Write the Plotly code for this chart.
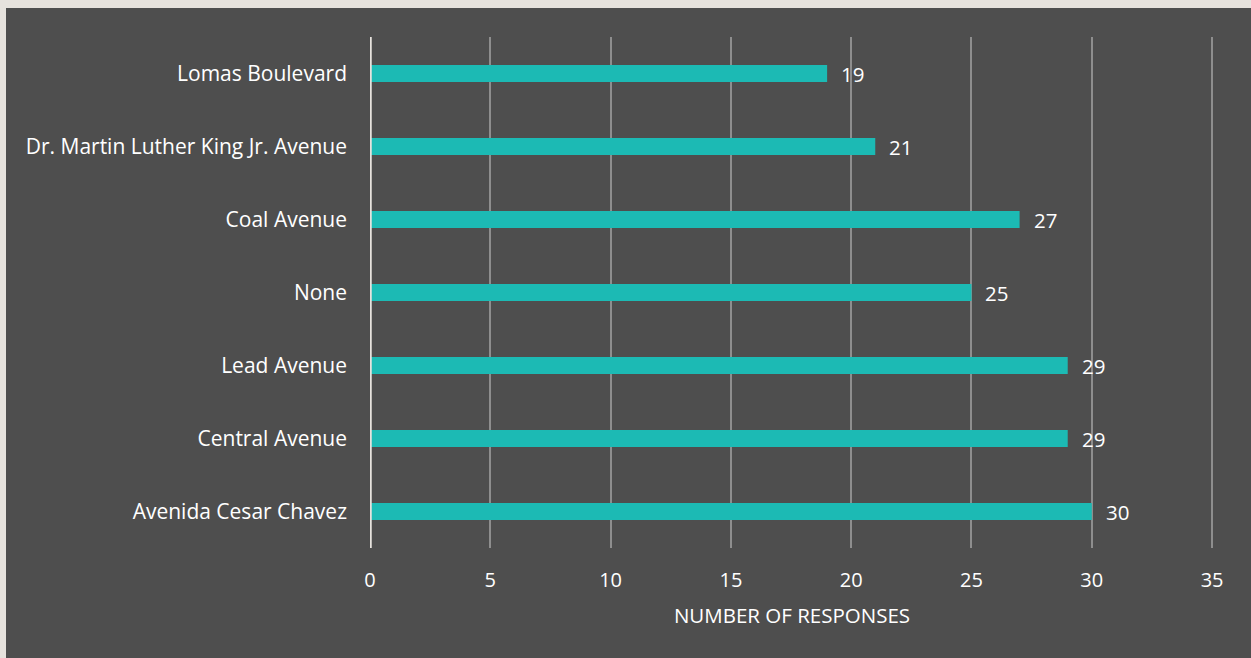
import plotly.graph_objects as go

# Survey responses per street (top to bottom as displayed)
streets = [
    "Lomas Boulevard",
    "Dr. Martin Luther King Jr. Avenue",
    "Coal Avenue",
    "None",
    "Lead Avenue",
    "Central Avenue",
    "Avenida Cesar Chavez",
]
responses = [19, 21, 27, 25, 29, 29, 30]
x_ticks = [0, 5, 10, 15, 20, 25, 30, 35]

BG = "#4e4e4e"
FRAME = "#e6e2dd"
BAR = "#1cbab4"
TEXT = "#ffffff"
FONT = "'Open Sans', sans-serif"

fig = go.Figure()
fig.add_trace(go.Bar(
    y=streets,
    x=responses,
    orientation="h",
    marker=dict(color=BAR, line=dict(width=0)),
    width=0.235,
    hoverinfo="x+y",
))

# value labels just past each bar end
for s, v in zip(streets, responses):
    fig.add_annotation(
        x=v, y=s, text=str(v), showarrow=False,
        xanchor="left", xshift=12,
        font=dict(family=FONT, size=20.5, color=TEXT),
    )

W, H = 1251, 658
L, R, T, B = 370, 37, 37, 110
pw, ph = W - L - R, H - T - B

# dark card behind the chart, leaving a thin light frame top and left
fig.add_shape(
    type="rect", layer="below", line=dict(width=0), fillcolor=BG,
    xref="paper", yref="paper",
    x0=(6 - L) / pw, x1=(W - L) / pw + 0.01,
    y0=-(H - T - ph) / ph - 0.01, y1=(ph + T - 8) / ph,
)

fig.update_layout(
    width=W, height=H,
    margin=dict(l=L, r=R, t=T, b=B),
    paper_bgcolor=FRAME,
    plot_bgcolor="rgba(0,0,0,0)",
    showlegend=False,
    font=dict(family=FONT, color=TEXT, size=20),
    xaxis=dict(
        range=[0, 35.08],
        tickvals=x_ticks,
        ticktext=[str(t) for t in x_ticks],
        showgrid=True, gridcolor="#8e8e8e", gridwidth=1.5,
        zeroline=False, showline=False,
        ticks="outside", ticklen=14, tickcolor="rgba(0,0,0,0)",
        tickfont=dict(size=20, color=TEXT),
        title=dict(text="NUMBER OF RESPONSES", font=dict(size=20.5, color=TEXT), standoff=16),
        fixedrange=True,
    ),
    yaxis=dict(
        categoryorder="array",
        categoryarray=streets[::-1],
        showgrid=False, zeroline=False,
        showline=False,
        ticks="", ticklabelstandoff=22,
        tickfont=dict(size=21, color=TEXT),
        fixedrange=True,
    ),
)

# light baseline at zero
fig.add_shape(
    type="line", xref="x", yref="paper", x0=0, x1=0, y0=0, y1=1,
    line=dict(color=FRAME, width=3.5), layer="above",
)

fig.write_html("out.html")
